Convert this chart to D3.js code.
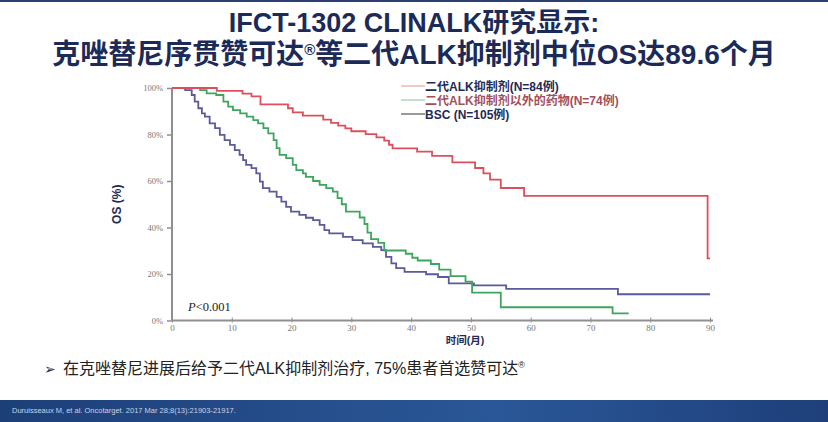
<!DOCTYPE html>
<html><head><meta charset="utf-8">
<script src="https://cdn.jsdelivr.net/npm/d3@7"></script>
<style>
html,body{margin:0;padding:0;background:#fff;}
svg{display:block;}
</style></head>
<body>
<svg id="c" width="828" height="422"></svg>
<script>
// ---------- data ----------
const titleLines = ["IFCT-1302 CLINALK研究显示:", "克唑替尼序贯赞可达®等二代ALK抑制剂中位OS达89.6个月"];
const seriesNames = ["二代ALK抑制剂(N=84例)", "二代ALK抑制剂以外的药物(N=74例)", "BSC (N=105例)"];
const xTicks = [0,10,20,30,40,50,60,70,80,90];
const yTicks = [0,20,40,60,80,100];
const yTickLabels = ["0%","20%","40%","60%","80%","100%"];

const alkMonths = [0,7.5,11.8,13.3,14.8,19.4,20.2,21.9,25.3,26.6,27.8,29.0,30.0,32.4,34.2,35.5,36.3,36.9,41.0,43.5,46.9,50.7,52.1,53.2,55.0,58.9,89.6,90];
const alkOS     = [100,98.8,97.6,96.4,93.0,91.3,89.5,88.1,86.4,85.0,83.8,82.6,81.4,80.2,78.8,77.4,75.6,74.0,72.6,70.8,68.0,65.6,63.3,60.6,57.0,53.6,26.7,26.7];

const otherMonths = [0,4.7,5.8,7.4,8.6,9.4,10.2,11.4,12.5,13.6,14.4,15.3,16.1,17.0,17.5,18.0,19.1,20.2,20.8,21.9,22.4,23.6,24.7,25.8,26.9,27.7,28.4,29.1,31.4,32.2,32.7,33.3,34.5,35.5,39.1,40.2,41.1,43.3,44.7,46.6,49.1,50.2,55.0,73.7,76.4];
const otherOS     = [100,99.1,97.7,97.0,94.1,92.0,90.5,89.1,87.7,86.2,84.8,82.7,80.5,77.6,74.1,71.2,69.8,66.9,64.7,63.3,61.8,60.0,58.3,56.9,55.4,52.6,50.0,46.8,44.3,41.5,37.8,35.0,33.4,30.1,28.7,27.0,25.8,24.3,21.9,19.1,16.7,12.0,5.7,3.1,3.1];

const bscMonths = [0,2.2,3.3,3.8,4.4,5.0,5.5,6.3,7.2,8.0,8.8,9.7,10.5,11.3,11.9,12.4,13.3,14.1,14.7,15.2,16.3,17.5,18.3,19.1,19.9,21.3,22.4,23.6,24.7,25.5,26.3,28.6,30.2,31.9,33.6,35.0,35.8,36.7,37.5,38.9,42.5,44.5,46.3,50.5,55.9,74.6,90];
const bscOS     = [100,99.1,97.0,94.1,91.3,89.1,87.7,84.8,82.7,79.8,77.6,75.5,73.3,71.2,69.0,66.9,65.5,63.3,59.7,56.9,55.4,53.2,51.1,48.9,46.8,45.4,44.2,43.2,41.1,38.9,37.5,36.0,34.6,33.2,31.7,30.3,27.4,24.6,22.5,20.9,19.9,18.7,16.0,15.1,13.6,11.3,11.3];

const colors = ["#de4f5e", "#3ea55e", "#5b5a9c"];
const legendTextColors = ["#1f2a55", "#a24f5c", "#1f2a55"];

// ---------- drawing ----------
const svg = d3.select("#c");
const fontSans = "'Liberation Sans', Arial, 'Noto Sans CJK SC', sans-serif";
const fontCJK = "'Liberation Sans', 'Noto Sans CJK SC', sans-serif";
const fontSerif = "'Liberation Serif', 'DejaVu Serif', serif";

// top thin band
svg.append("rect").attr("x",0).attr("y",0).attr("width",828).attr("height",2).attr("fill","#2b3f73");

// title
svg.append("text").attr("x",414).attr("y",32).attr("text-anchor","middle")
  .attr("font-family",fontCJK).attr("font-weight","bold").attr("font-size",27)
  .attr("fill","#1c2a58").text(titleLines[0]);
const t2 = svg.append("text").attr("x",414).attr("y",64).attr("text-anchor","middle")
  .attr("font-family",fontCJK).attr("font-weight","bold").attr("font-size",28)
  .attr("fill","#1c2a58");
const parts = titleLines[1].split("®");
t2.append("tspan").text(parts[0]);
t2.append("tspan").attr("font-size",15).attr("dy",-9).text("®");
t2.append("tspan").attr("dy",9).text(parts[1]);

// scales
const x = d3.scaleLinear().domain([0,90]).range([172,710]);
const y = d3.scaleLinear().domain([0,100]).range([320.5,88]);

// axes
const axisColor = "#8f8f8f";
const gx = svg.append("g").attr("transform",`translate(0,${y(0)})`)
  .call(d3.axisBottom(x).tickValues(xTicks).tickSize(0).tickPadding(4));
gx.select(".domain").attr("stroke",axisColor).attr("stroke-width",2).attr("d",`M${x(0)},0H${x(90)+3}`);
gx.selectAll(".tick").append("line").attr("y1",-3).attr("y2",2).attr("stroke",axisColor).attr("stroke-width",1);
gx.selectAll(".tick text").attr("font-family",fontSerif).attr("font-size",9).attr("fill","#777");

const gy = svg.append("g").attr("transform",`translate(${x(0)},0)`)
  .call(d3.axisLeft(y).tickValues(yTicks).tickFormat((d,i)=>yTickLabels[i]).tickSize(5).tickPadding(4));
gy.select(".domain").attr("stroke",axisColor).attr("stroke-width",2).attr("d",`M0,${y(100)}V${y(0)}`);
gy.selectAll(".tick line").attr("stroke",axisColor).attr("stroke-width",1.5);
gy.selectAll(".tick text").attr("font-family",fontSerif).attr("font-size",8.5).attr("fill","#777");

// axis titles
svg.append("text").attr("transform",`translate(121,${(y(0)+y(100))/2}) rotate(-90)`)
  .attr("text-anchor","middle").attr("font-family",fontSans).attr("font-weight","bold")
  .attr("font-size",12).attr("fill","#1f2a55").text("OS (%)");
svg.append("text").attr("x",x(49)).attr("y",344).attr("text-anchor","middle")
  .attr("font-family",fontCJK).attr("font-weight","bold").attr("font-size",10.5)
  .attr("fill","#1f2a55").text("时间(月)");

// curves
const series = [
  {t: alkMonths, s: alkOS},
  {t: otherMonths, s: otherOS},
  {t: bscMonths, s: bscOS}
];
const line = d3.line().x(d=>x(d[0])).y(d=>y(d[1])).curve(d3.curveStepAfter);
[2,1,0].forEach(i=>{
  const pts = series[i].t.map((m,j)=>[m, series[i].s[j]]);
  svg.append("path").attr("d",line(pts)).attr("fill","none")
    .attr("stroke",colors[i]).attr("stroke-width",1.8).attr("stroke-linejoin","miter");
});

// legend
const legY = [86, 100, 114];
seriesNames.forEach((n,i)=>{
  svg.append("line").attr("x1",401).attr("x2",425).attr("y1",legY[i]).attr("y2",legY[i])
    .attr("stroke", i===2 ? "#555" : (i===0 ? "#e7a3aa" : "#9cc9a8")).attr("stroke-width",1.2);
  svg.append("text").attr("x",425).attr("y",legY[i]+4.5)
    .attr("font-family",fontCJK).attr("font-weight","bold").attr("font-size",12)
    .attr("fill",legendTextColors[i]).text(n);
});

// p-value
const pt = svg.append("text").attr("x",188).attr("y",311).attr("font-family",fontSerif)
  .attr("font-size",12.5).attr("fill","#222");
pt.append("tspan").attr("font-style","italic").text("P");
pt.append("tspan").text("<0.001");

// bullet
svg.append("text").attr("x",44).attr("y",374).attr("font-family","'DejaVu Sans', sans-serif")
  .attr("font-size",14).attr("fill","#333").text("➢");
const bt = svg.append("text").attr("x",63).attr("y",374).attr("font-family","'Liberation Sans','Noto Sans CJK SC',sans-serif")
  .attr("font-size",16).attr("fill","#222");
bt.append("tspan").text("在克唑替尼进展后给予二代ALK抑制剂治疗, 75%患者首选赞可达");
bt.append("tspan").attr("font-size",9).attr("dy",-6).text("®");

// footer
const defs = svg.append("defs");
const gr = defs.append("linearGradient").attr("id","fg").attr("x1","0").attr("x2","1").attr("y1","0").attr("y2","0");
gr.append("stop").attr("offset","0").attr("stop-color","#1d3f78");
gr.append("stop").attr("offset","0.6").attr("stop-color","#2a5797");
gr.append("stop").attr("offset","1").attr("stop-color","#1e3f7a");
svg.append("rect").attr("x",0).attr("y",400).attr("width",828).attr("height",22).attr("fill","url(#fg)");
svg.append("text").attr("x",12).attr("y",413).attr("font-family",fontSans).attr("font-size",7.5)
  .attr("fill","#c9d3e6").text("Duruisseaux M, et al. Oncotarget. 2017 Mar 28;8(13):21903-21917.");
</script>
</body></html>
